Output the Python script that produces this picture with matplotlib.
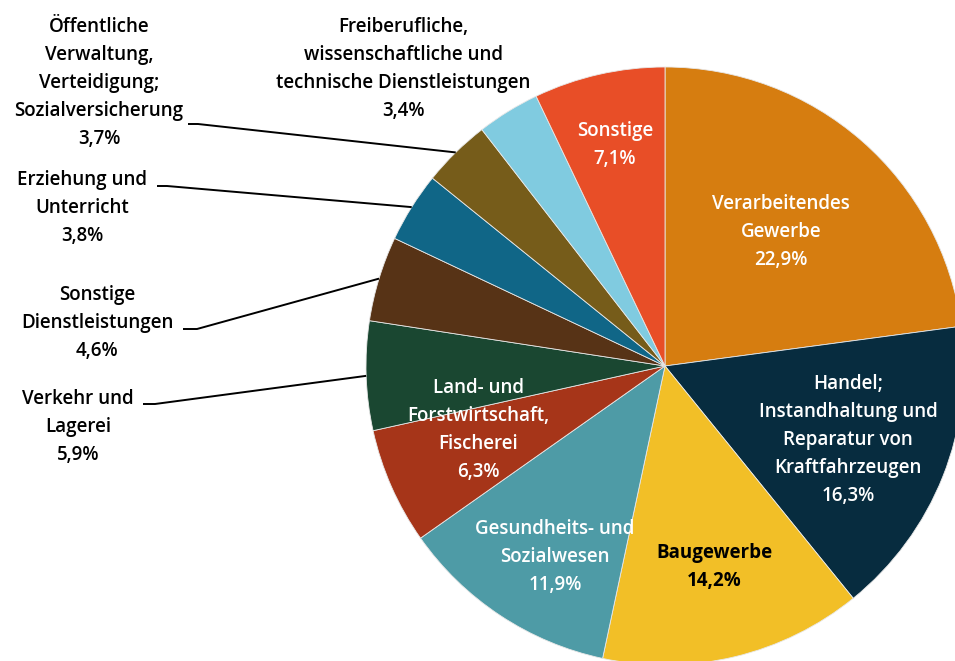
import numpy as np
import matplotlib
matplotlib.use("Agg")
import matplotlib.pyplot as plt

# Anteile der Wirtschaftsbereiche, im Uhrzeigersinn ab 12 Uhr
labels = [
    "Verarbeitendes\nGewerbe",
    "Handel;\nInstandhaltung und\nReparatur von\nKraftfahrzeugen",
    "Baugewerbe",
    "Gesundheits- und\nSozialwesen",
    "Land- und\nForstwirtschaft,\nFischerei",
    "Verkehr und\nLagerei",
    "Sonstige\nDienstleistungen",
    "Erziehung und\nUnterricht",
    "Öffentliche\nVerwaltung,\nVerteidigung;\nSozialversicherung",
    "Freiberufliche,\nwissenschaftliche und\ntechnische Dienstleistungen",
    "Sonstige",
]
shares = [22.9, 16.3, 14.2, 11.9, 6.3, 5.9, 4.6, 3.8, 3.7, 3.4, 7.1]
colors = ["#D67D10", "#072C3F", "#F2BF27", "#4E9BA6", "#A63519", "#1A4731",
          "#573316", "#106687", "#765C1A", "#80CBE0", "#E84E27"]
text_colors = ["white", "white", "black", "white", "white", "black",
               "black", "black", "black", "black", "white"]

# label placement in pixel coords (x, y of text block centre)
label_pos = [(781, 232), (848, 440), (714, 567), (555, 557), (478, 430),
             (78, 427), (97, 323), (82, 208), (99, 83), (403, 69), (615, 145)]
# leader elbows: (start x, elbow x, y)
leaders = {5: (143, 155, 404), 6: (183, 197, 329), 7: (157, 167, 186),
           8: (188, 198, 124)}

W, H = 955, 661
CX, CY, R = 665, 366, 299

plt.rcParams["font.family"] = ["Open Sans", "DejaVu Sans"]

fig = plt.figure(figsize=(W / 100, H / 100), dpi=100)
ax = fig.add_axes([0, 0, 1, 1])
wedges, _ = ax.pie(shares, colors=colors, startangle=-90, counterclock=True,
                   center=(CX, CY), radius=R,
                   wedgeprops=dict(edgecolor="#e8e8e8", linewidth=0.6))
ax.set_xlim(0, W)
ax.set_ylim(H, 0)
ax.set_aspect("equal")
ax.axis("off")

for i, (lab, val) in enumerate(zip(labels, shares)):
    txt = f"{lab}\n{val:.1f}%".replace(".", ",")
    x, y = label_pos[i]
    weight = "bold" if i == 2 else "semibold"
    ax.text(x, y, txt, ha="center", va="center", multialignment="center",
            fontsize=13.5, fontweight=weight, color=text_colors[i],
            linespacing=1.53)
    if i in leaders:
        x0, x1, ly = leaders[i]
        w = wedges[i]
        mid = np.deg2rad((w.theta1 + w.theta2) / 2)
        ex, ey = CX + R * np.cos(mid), CY + R * np.sin(mid)
        ax.plot([x0, x1, ex], [ly, ly, ey], color="black", lw=1.4,
                solid_capstyle="butt")

fig.savefig("out.png", dpi=100)
